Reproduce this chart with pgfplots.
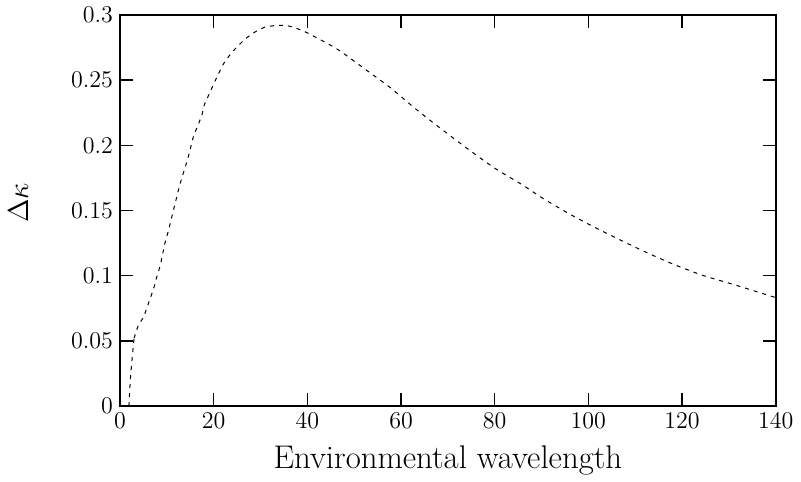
\documentclass[border=0pt]{standalone}
\usepackage{pgfplots}
\pgfplotsset{compat=1.18}

\begin{document}
\begin{tikzpicture}
\begin{axis}[
    scale only axis,
    width=327.85pt,
    height=195.5pt,
    xmin=0, xmax=140,
    ymin=0, ymax=0.3,
    xtick={0,20,...,140},
    ytick={0,0.05,0.1,0.15,0.2,0.25,0.3},
    scaled y ticks=false,
    yticklabel style={/pgf/number format/fixed,/pgf/number format/precision=2},
    tick label style={font=\fontsize{13}{15}\selectfont},
    tick align=inside,
    major tick length=6.5pt,
    every tick/.style={black,line width=0.8pt},
    axis line style={line width=1pt},
    xlabel={Environmental wavelength},
    xlabel style={font=\fontsize{16.4}{19}\selectfont,at={(axis description cs:0.5,-0.159)},anchor=base},
    ylabel={$\Delta\kappa$},
    ylabel style={font=\fontsize{13.5}{15}\selectfont,at={(axis description cs:-0.155,0.52)},anchor=center},
]
% steep start
\addplot[black, line width=0.5pt, dash pattern=on 2pt off 2.5pt] coordinates {
(1.9,0) (2.2,0.02) (2.6,0.037) (3.0,0.052)
};
\addplot[black, line width=0.5pt, dash pattern=on 2pt off 2.5pt, smooth, tension=0.4] coordinates {
(3.0,0.052) (3.9,0.0617) (5.0,0.068)
(5.8,0.076) (6.6,0.084) (7.3,0.0916) (7.9,0.0998) (8.6,0.108)
(9.6,0.125) (10.3,0.134) (11.4,0.150) (12.5,0.166) (13.2,0.175)
(13.9,0.183) (14.6,0.1915) (15.7,0.207) (16.6,0.215) (17.5,0.2235)
(18.0,0.231) (19.0,0.239) (20.0,0.247) (21.0,0.2547) (22.1,0.2625)
(23.5,0.2696) (24.9,0.2752) (26.6,0.2811) (28.5,0.2863) (30.9,0.2906)
(33.2,0.2919) (35.6,0.2919) (38.0,0.2893) (40.0,0.2863) (46.3,0.274)
(52.0,0.2593) (57.8,0.244) (63.1,0.228) (68.8,0.212) (74.5,0.1966)
(80.2,0.182) (86.0,0.1695) (90.2,0.1595) (96.3,0.1467) (102.5,0.135)
(111.2,0.1198) (117.6,0.1096) (124.1,0.1006) (131.2,0.093) (139.7,0.0835)
(140,0.0832)
};
\end{axis}
\pgfresetboundingbox
\path ([shift={(-60pt,-37.5pt)}]current axis.south west) rectangle ([shift={(12.65pt,7.5pt)}]current axis.north east);
\end{tikzpicture}
\end{document}
